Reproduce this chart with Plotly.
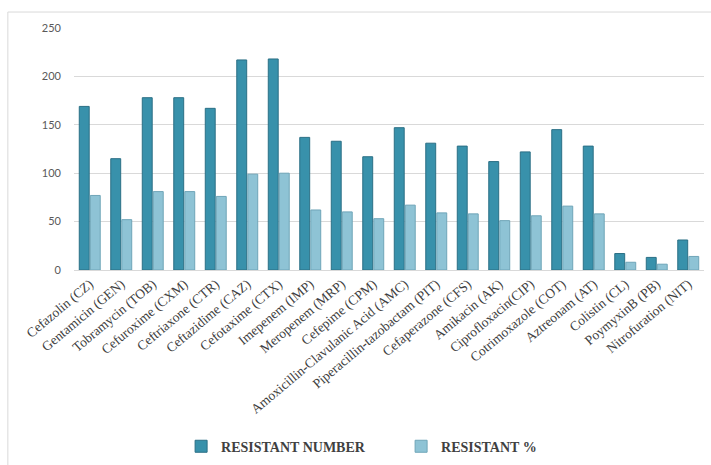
import plotly.graph_objects as go

categories = [
    "Cefazolin (CZ)", "Gentamicin (GEN)", "Tobramycin (TOB)", "Cefuroxime (CXM)",
    "Ceftriaxone (CTR)", "Ceftazidime (CAZ)", "Cefotaxime (CTX)", "Imepenem (IMP)",
    "Meropenem (MRP)", "Cefepime (CPM)", "Amoxicillin-Clavulanic Acid (AMC)",
    "Piperacillin-tazobactam (PIT)", "Cefaperazone (CFS)", "Amikacin (AK)",
    "Ciprofloxacin(CIP)", "Cotrimoxazole (COT)", "Aztreonam (AT)", "Colistin (CL)",
    "PoymyxinB (PB)", "Nitrofuration (NIT)",
]
resistant_number = [169, 115, 178, 178, 167, 217, 218, 137, 133, 117, 147, 131, 128, 112, 122, 145, 128, 17, 13, 31]
resistant_pct = [77, 52, 81, 81, 76, 99, 100, 62, 60, 53, 67, 59, 58, 51, 56, 66, 58, 8, 6, 14]
y_ticks = [0, 50, 100, 150, 200, 250]

fig = go.Figure()
fig.add_trace(go.Bar(
    x=categories, y=resistant_number, name="<b>RESISTANT NUMBER</b>",
    marker=dict(color="#3891AB", line=dict(color="#2A6F85", width=1)),
))
fig.add_trace(go.Bar(
    x=categories, y=resistant_pct, name="<b>RESISTANT %</b>",
    marker=dict(color="#8EC3D5", line=dict(color="#6FA5B8", width=1)),
))

fig.update_layout(
    width=711, height=465,
    margin=dict(l=74, r=7, t=28, b=195, autoexpand=False),
    paper_bgcolor="white", plot_bgcolor="white",
    barmode="group", bargap=0.3, bargroupgap=0.1,
    showlegend=True,
    legend=dict(
        orientation="h", x=0.17, xanchor="left", y=-0.73, yanchor="middle",
        font=dict(family="Liberation Serif, Times New Roman, serif", size=14, color="#404040"),
        itemwidth=30, traceorder="normal",
        entrywidth=175, entrywidthmode="pixels",
    ),
    xaxis=dict(
        tickangle=-40, automargin=False,
        tickfont=dict(family="Liberation Serif, Times New Roman, serif", size=13.5, color="#404040"),
        showline=True, linecolor="#D9D9D9", ticks="",
    ),
    yaxis=dict(
        range=[0, 250], tickvals=y_ticks, showgrid=True, gridcolor="#D9D9D9",
        zeroline=False, tickfont=dict(family="Lato", size=11, color="#595959"),
        ticks="", ticklen=0, automargin=False, ticklabelstandoff=12,
    ),
    shapes=[dict(
        type="rect", xref="paper", yref="paper",
        x0=-0.105, x1=1.1, y0=-0.95, y1=1.066,
        line=dict(color="#D9D9D9", width=1), layer="below",
    )],
)

fig.write_html("out.html")
